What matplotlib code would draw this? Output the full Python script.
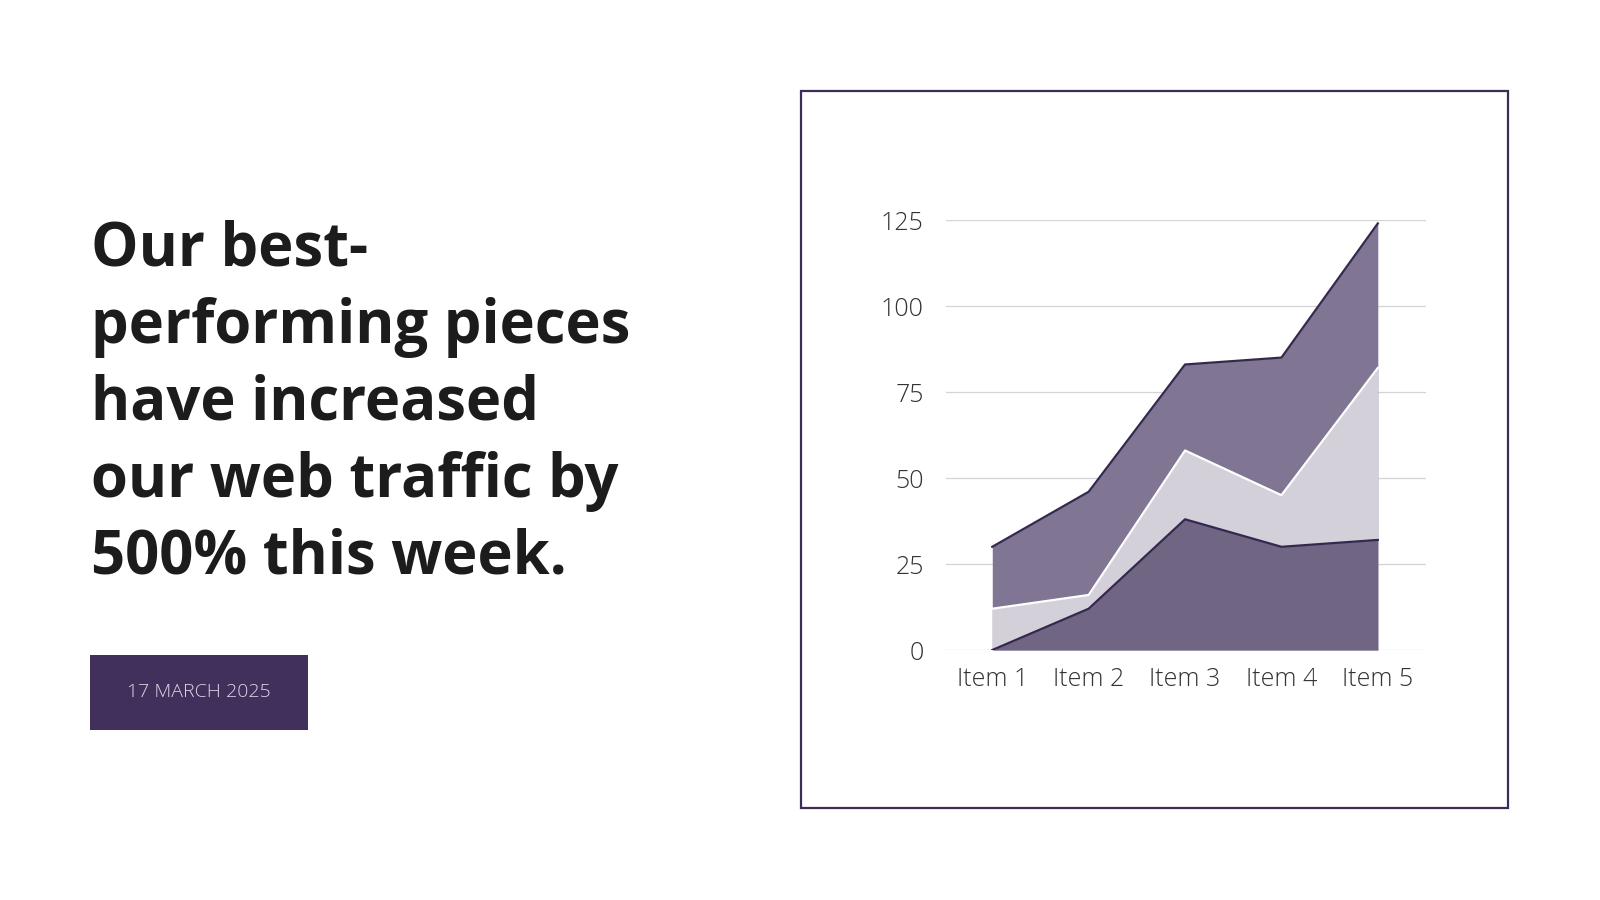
import numpy as np
import matplotlib.pyplot as plt
from matplotlib.patches import Rectangle

plt.rcParams['font.family'] = ['Open Sans', 'DejaVu Sans']

# Chart data
items = ['Item 1', 'Item 2', 'Item 3', 'Item 4', 'Item 5']
series_back = [30, 46, 83, 85, 124]
series_mid = [12, 16, 58, 45, 82]
series_front = [0, 12, 38, 30, 32]
y_ticks = [0, 25, 50, 75, 100, 125]

title_lines = ['Our best-', 'performing pieces', 'have increased',
               'our web traffic by', '500% this week.']
date_label = '17 MARCH 2025'

W, H = 1600, 900
fig = plt.figure(figsize=(16, 9), dpi=100)
fig.patch.set_facecolor('white')

# Title text, one line at a time
for i, line in enumerate(title_lines):
    base = 266 + i * 77
    fig.text(91 / W, 1 - base / H, line, fontsize=43, fontweight='bold',
             color='#1c1c1c', va='baseline', ha='left')

# Date box
fig.patches.append(Rectangle((90 / W, 1 - 730 / H), 218 / W, 75 / H,
                             transform=fig.transFigure, facecolor='#412f5c',
                             edgecolor='none'))
fig.text(199 / W, 1 - 692 / H, date_label, fontsize=14, fontweight='light',
         color='#dcd6e6', ha='center', va='center')

# Chart frame
fig.patches.append(Rectangle((801 / W, 1 - 808 / H), 707 / W, 717 / H,
                             transform=fig.transFigure, facecolor='none',
                             edgecolor='#3b2d57', linewidth=1.6))

ax = fig.add_axes([946 / W, 1 - 650 / H, 480 / W, 430 / H])
x = np.arange(len(items))

ax.fill_between(x, 0, series_back, color='#807593', linewidth=0, zorder=2)
ax.plot(x, series_back, color='#35284f', linewidth=1.6, zorder=3)
ax.fill_between(x, 0, series_mid, color='#d3d0da', linewidth=0, zorder=4)
ax.plot(x, series_mid, color='white', linewidth=1.6, zorder=5)
ax.fill_between(x, 0, series_front, color='#716584', linewidth=0, zorder=6)
ax.plot(x, series_front, color='#35284f', linewidth=1.6, zorder=7)

ax.set_xlim(-0.48, 4.5)
ax.set_ylim(0, 125)
ax.set_yticks(y_ticks)
ax.set_xticks(x)
ax.set_xticklabels(items)
ax.grid(axis='y', color='#d4d4d8', linewidth=0.9, zorder=0)
ax.set_axisbelow(True)
for s in ax.spines.values():
    s.set_visible(False)
ax.tick_params(length=0, labelsize=18, labelcolor='#333333')
ax.tick_params(axis='x', pad=12)
ax.tick_params(axis='y', pad=16)
for lbl in ax.get_xticklabels() + ax.get_yticklabels():
    lbl.set_fontweight('light')

fig.savefig('out.png', dpi=100, facecolor='white')
